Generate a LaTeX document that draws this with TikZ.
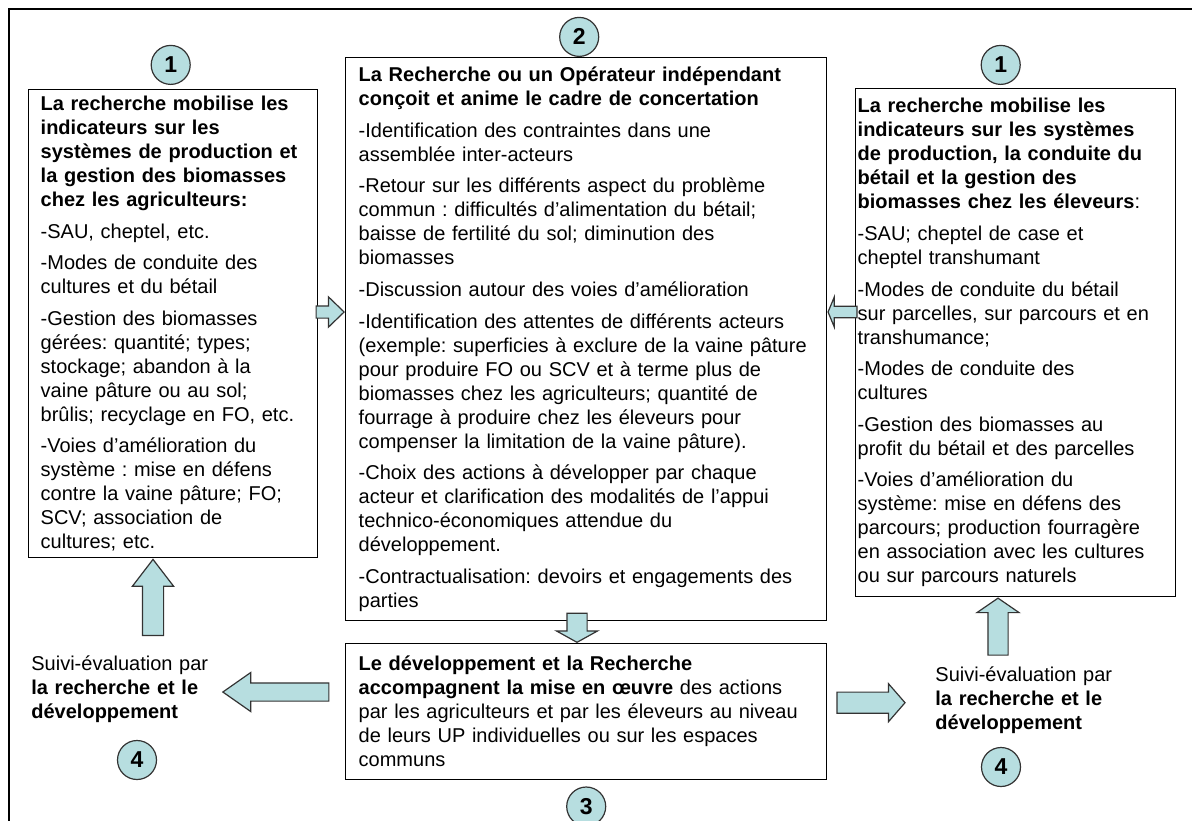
\documentclass[tikz,border=0pt]{standalone}
\usepackage{fontspec}
\setmainfont{Liberation Sans}
\usepackage{tikz}
\usetikzlibrary{positioning,shapes.arrows}
\definecolor{numfill}{RGB}{183,222,224}
\newcommand{\itemgap}{\\[3.8pt]}
\frenchspacing

\begin{document}
\begin{tikzpicture}[
  x=0.5pt, y=-0.5pt,
  font=\fontsize{10}{12}\selectfont,
  box/.style={draw, line width=0.7pt, anchor=north west, align=left, inner ysep=2pt},
  num/.style={circle, draw=black!80, fill=numfill, line width=0.6pt, minimum size=19.5pt,
    inner sep=0pt, font=\fontsize{11.5}{12}\selectfont\bfseries},
  blockarrow/.style={single arrow, draw=black!80, fill=numfill, line width=0.6pt, inner xsep=0pt},
  note/.style={align=left, inner sep=0pt, anchor=west}
]
\useasboundingbox (0,0) rectangle (1192,820);
\draw[line width=0.8pt] (9,9) rectangle (1200,830);

\node[box, inner xsep=6pt, text width=132.5pt, minimum width=144.5pt, minimum height=234pt] (agri) at (28,89)
  {\textbf{La recherche mobilise les\\indicateurs sur les\\systèmes de production et\\la gestion des biomasses\\chez les agriculteurs:}\itemgap
   -SAU, cheptel, etc.\itemgap
   -Modes de conduite des\\cultures et du bétail\itemgap
   -Gestion des biomasses\\gérées: quantité; types;\\stockage; abandon à la\\vaine pâture ou au sol;\\brûlis; recyclage en FO, etc.\itemgap
   -Voies d’amélioration du\\système : mise en défens\\contre la vaine pâture; FO;\\SCV; association de\\cultures; etc.};

\node[box, inner xsep=6.5pt, text width=227.5pt, minimum width=240.5pt, minimum height=281.5pt] (concert) at (345,57)
  {\textbf{La Recherche ou un Opérateur indépendant\\conçoit et anime le cadre de concertation}\itemgap
   -Identification des contraintes dans une\\assemblée inter-acteurs\itemgap
   -Retour sur les différents aspect du problème\\commun : difficultés d’alimentation du bétail;\\baisse de fertilité du sol; diminution des\\biomasses\itemgap
   -Discussion autour des voies d’amélioration\itemgap
   -Identification des attentes de différents acteurs\\(exemple: superficies à exclure de la vaine pâture\\pour produire FO ou SCV et à terme plus de\\biomasses chez les agriculteurs; quantité de\\fourrage à produire chez les éleveurs pour\\compenser la limitation de la vaine pâture).\itemgap
   -Choix des actions à développer par chaque\\acteur et clarification des modalités de l’appui\\technico-économiques attendue du\\développement.\itemgap
   -Contractualisation: devoirs et engagements des\\parties};

\node[box, inner xsep=1pt, text width=158pt, minimum width=160pt, minimum height=254pt] (elev) at (855,88)
  {\textbf{La recherche mobilise les\\indicateurs sur les systèmes\\de production, la conduite du\\bétail et la gestion des\\biomasses chez les éleveurs}:\itemgap
   -SAU; cheptel de case et\\cheptel transhumant\itemgap
   -Modes de conduite du bétail\\sur parcelles, sur parcours et en\\transhumance;\itemgap
   -Modes de conduite des\\cultures\itemgap
   -Gestion des biomasses au\\profit du bétail et des parcelles\itemgap
   -Voies d’amélioration du\\système: mise en défens des\\parcours; production fourragère\\en association avec les cultures\\ou sur parcours naturels};

\node[box, inner xsep=6.5pt, text width=227.5pt, minimum width=240.5pt, minimum height=68pt] (accomp) at (345,643)
  {\textbf{Le développement et la Recherche\\accompagnent la mise en œuvre} des actions\\par les agriculteurs et par les éleveurs au niveau\\de leurs UP individuelles ou sur les espaces\\communs};

\node[note, text width=95pt] (suiviL) at (31,689) {Suivi-évaluation par\\\textbf{la recherche et le\\développement}};
\node[note, text width=110pt] (suiviR) at (935,700) {Suivi-évaluation par\\\textbf{la recherche et le\\développement}};

\node[num, above=2pt of agri, xshift=-1.25pt] (n1L) {1};
\node[num, above=0pt of concert, xshift=-3.5pt] (n2) {2};
\node[num, above=1.5pt of elev, xshift=-7.5pt] (n1R) {1};
\node[num, below=3pt of accomp] (n3) {3};
\node[num] (n4L) at (137,760) {4};
\node[num] (n4R) at (1001,767) {4};

\node[blockarrow, anchor=tip, minimum height=14pt, inner ysep=2.75pt,
  single arrow head extend=4.5pt, single arrow tip angle=88] (a1) at (concert.west |- 0,312) {};
\node[blockarrow, anchor=tip, rotate=180, minimum height=14.5pt, inner ysep=2.6pt,
  single arrow head extend=4.5pt, single arrow tip angle=135] (a2) at (concert.east |- 0,312) {};
\node[blockarrow, anchor=tip, rotate=-90, minimum height=14.5pt, inner ysep=4.75pt,
  single arrow head extend=5.25pt, single arrow tip angle=122] (a3) at (accomp.north -| 577,0) {};
\node[blockarrow, anchor=tip, rotate=180, minimum height=53pt, inner ysep=4.25pt,
  single arrow head extend=5.25pt, single arrow tip angle=70] (a4) at (suiviL.east |- 0,692) {};
\node[blockarrow, anchor=tail, minimum height=34pt, inner ysep=5pt,
  single arrow head extend=4.25pt, single arrow tip angle=98] (a5) at ([xshift=4.5pt,yshift=4.5pt]accomp.east) {};
\node[blockarrow, anchor=tip, rotate=90, minimum height=38pt, inner ysep=5pt,
  single arrow head extend=5pt, single arrow tip angle=75] (a6) at (agri.south -| 153,0) {};
\node[blockarrow, anchor=tip, rotate=90, minimum height=28.5pt, inner ysep=4.75pt,
  single arrow head extend=5.5pt, single arrow tip angle=111] (a7) at (elev.south -| 998,0) {};
\end{tikzpicture}
\end{document}
